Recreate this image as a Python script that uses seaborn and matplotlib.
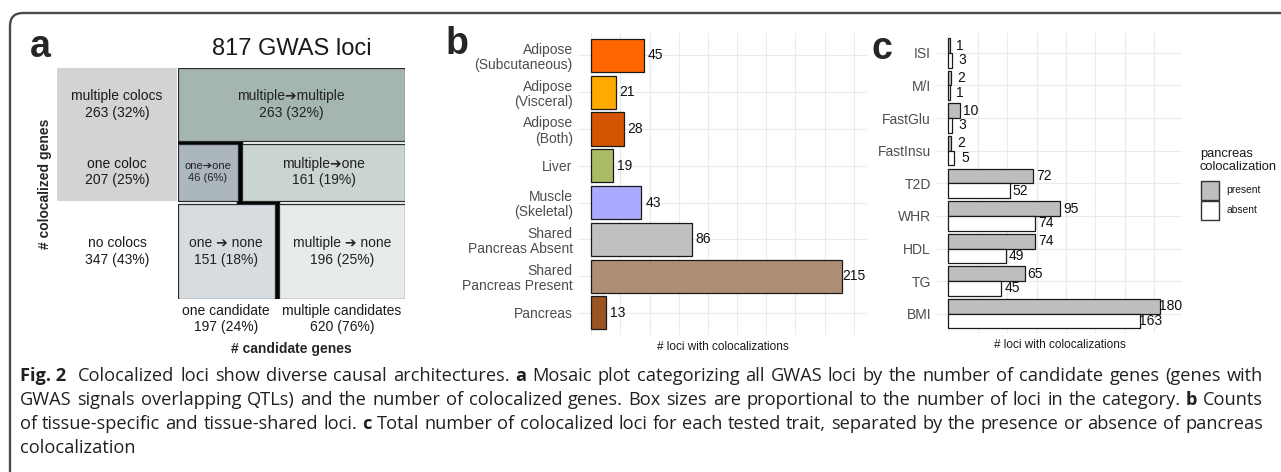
import matplotlib
matplotlib.use("Agg")
import matplotlib.pyplot as plt
import numpy as np
import pandas as pd
import seaborn as sns
from matplotlib.patches import Rectangle, FancyBboxPatch
from matplotlib.ticker import MultipleLocator
from matplotlib.transforms import IdentityTransform

# ---------------- data ----------------
# panel a: GWAS loci by number of candidate genes x number of colocalized genes
coloc_rows = ["multiple colocs", "one coloc", "no colocs"]
coloc_row_pct = ["32%", "25%", "43%"]
one_candidate = [0, 46, 151]
multi_candidate = [263, 161, 196]
one_tile_labels = [None, "one\u2794one", "one \u2794 none"]
one_tile_pct = [None, "6%", "18%"]
multi_tile_labels = ["multiple\u2794multiple", "multiple\u2794one", "multiple \u2794 none"]
multi_tile_pct = ["32%", "19%", "25%"]
candidate_cols = ["one candidate", "multiple candidates"]
candidate_col_pct = ["24%", "76%"]

# panel b: tissue-specific and tissue-shared loci
tissues = ["Adipose\n(Subcutaneous)", "Adipose\n(Visceral)", "Adipose\n(Both)", "Liver",
           "Muscle\n(Skeletal)", "Shared\nPancreas Absent", "Shared\nPancreas Present", "Pancreas"]
tissue_loci = [45, 21, 28, 19, 43, 86, 215, 13]

# panel c: colocalized loci per trait, split by pancreas colocalization
traits = ["ISI", "M/I", "FastGlu", "FastInsu", "T2D", "WHR", "HDL", "TG", "BMI"]
pancreas_present = [1, 2, 10, 2, 72, 95, 74, 65, 180]
pancreas_absent = [3, 1, 3, 5, 52, 74, 49, 45, 163]
pancreas_levels = ["present", "absent"]

# ---------------- styles ----------------
tissue_colors = ["#ff6600", "#ffaa00", "#d45500", "#aabb66", "#aaaaff",
                 "#c0c0c0", "#ad8f78", "#995522"]
one_tile_colors = [None, "#acb6bd", "#d6dce0"]
multi_tile_colors = ["#a5b6b1", "#cad5d1", "#e8ebeb"]
label_block_color = "#d3d3d3"
edge_dark = "#1a1a1a"
grid_color = "#ebebeb"
arrow_font = ["Liberation Sans", "DejaVu Sans"]

sns.set_style("white")
plt.rcParams["font.family"] = "Liberation Sans"

W, H = 1281, 472
fig = plt.figure(figsize=(W / 100, H / 100), dpi=100)


def px_axes(x0, y0, x1, y1):
    return fig.add_axes([x0 / W, 1 - y1 / H, (x1 - x0) / W, (y1 - y0) / H])


# ---------------- outer frame ----------------
frame = FancyBboxPatch((10, -60), 1400, H - 13 + 60, boxstyle="round,pad=0,rounding_size=13",
                       transform=IdentityTransform(), fill=False, ec="#4a4a4a", lw=1.7)
fig.patches.append(frame)

# ---------------- panel a: mosaic ----------------
ax_a = px_axes(177.7, 68.3, 405, 299)
ax_a.set_xlim(0, 1)
ax_a.set_ylim(0, 1)
ax_a.axis("off")

row_tot = [o + m for o, m in zip(one_candidate, multi_candidate)]
total = sum(row_tot)
col_tot = [sum(one_candidate), sum(multi_candidate)]
row_gap, col_gap, min_share = 0.013, 0.02, 0.27
avail_h = 1 - row_gap * (len(coloc_rows) - 1)

y_top = 1.0
row_bounds, split_x = [], []
for i, name in enumerate(coloc_rows):
    h = avail_h * row_tot[i] / total
    yb = y_top - h
    row_bounds.append((yb, y_top))
    tiles = []
    if one_candidate[i] == 0:
        tiles.append((0, 1, multi_candidate[i], multi_tile_labels[i], multi_tile_pct[i], multi_tile_colors[i]))
        split_x.append(None)
    else:
        share = max(one_candidate[i] / row_tot[i], min_share)
        w1 = (1 - col_gap) * share
        tiles.append((0, w1, one_candidate[i], one_tile_labels[i], one_tile_pct[i], one_tile_colors[i]))
        tiles.append((w1 + col_gap, 1, multi_candidate[i], multi_tile_labels[i], multi_tile_pct[i], multi_tile_colors[i]))
        split_x.append(w1 + col_gap / 2)
    for (x0, x1, n, lab, pct, col) in tiles:
        ax_a.add_patch(Rectangle((x0, yb), x1 - x0, h, fc=col, ec="#2a2a2a", lw=0.9, zorder=2))
        fs = 8 if (x1 - x0) < 0.3 else 10
        ax_a.text((x0 + x1) / 2, (yb + y_top) / 2, f"{lab}\n{n} ({pct})", ha="center", va="center",
                  fontsize=fs, color="#222222", linespacing=1.25, zorder=3, family=arrow_font)
    # row label on the left
    ax_a.text(-0.267, (yb + y_top) / 2, f"{name}\n{row_tot[i]} ({coloc_row_pct[i]})", ha="center",
              va="center", fontsize=10, color="#1a1a1a", linespacing=1.25, clip_on=False)
    y_top = yb - row_gap

# grey block behind the labels of rows that have colocalizations
coloc_bottom = row_bounds[1][0]
ax_a.add_patch(Rectangle((-0.531, coloc_bottom), 0.527, row_bounds[0][1] - coloc_bottom,
                         fc=label_block_color, ec="none", clip_on=False, zorder=0))

# heavy boundary between single- and multiple-candidate loci
g01 = (row_bounds[0][0] + row_bounds[1][1]) / 2
g12 = (row_bounds[1][0] + row_bounds[2][1]) / 2
stair_x = [0, split_x[1], split_x[1], split_x[2], split_x[2]]
stair_y = [g01, g01, g12, g12, 0]
ax_a.plot(stair_x, stair_y, color="black", lw=4.6, solid_joinstyle="miter",
          solid_capstyle="butt", zorder=1)

# column labels under the mosaic
bottom_split = split_x[2]
col_centers = [(0 + bottom_split - col_gap / 2) / 2, (bottom_split + col_gap / 2 + 1) / 2]
for cx, name, n, pct in zip(col_centers, candidate_cols, col_tot, candidate_col_pct):
    ax_a.text(cx, -0.087, f"{name}\n{n} ({pct})", ha="center", va="center", fontsize=10,
              color="#1a1a1a", linespacing=1.25, clip_on=False)

ax_a.text(0.5, 1 + (68.3 - 49) / 230.7, f"{total} GWAS loci", ha="center", va="center",
          fontsize=17, color="#1a1a1a", clip_on=False)
fig.text(291.5 / W, 1 - 349 / H, "# candidate genes", ha="center", va="center",
         fontsize=10, fontweight="bold")
fig.text(45 / W, 1 - 184 / H, "# colocalized genes", ha="center", va="center",
         fontsize=10, fontweight="bold", rotation=90)

# ---------------- panel b ----------------
ax_b = px_axes(578, 33.3, 867, 335)
sns.barplot(x=tissue_loci, y=tissues, hue=tissues, palette=tissue_colors, legend=False,
            orient="h", width=0.9, saturation=1, edgecolor=edge_dark, linewidth=0.9, ax=ax_b)
b_off = 10
b_max = max(tissue_loci) + b_off
ax_b.set_xlim(-0.05 * b_max, 1.05 * b_max)
ax_b.set_ylim(len(tissues) - 0.4, -0.6)
for cont in ax_b.containers:
    for bar in cont:
        v = bar.get_width()
        ax_b.text(v + b_off, bar.get_y() + bar.get_height() / 2, f"{v:.0f}", ha="center",
                  va="center", fontsize=10, color="#111111")

# ---------------- panel c ----------------
ax_c = px_axes(937.3, 33.3, 1181.7, 333.3)
trait_df = pd.DataFrame({
    "trait": traits * 2,
    "pancreas": [pancreas_levels[0]] * len(traits) + [pancreas_levels[1]] * len(traits),
    "loci": pancreas_present + pancreas_absent,
})
fill_map = {"present": "#bebebe", "absent": "#ffffff"}
sns.barplot(data=trait_df, x="loci", y="trait", hue="pancreas", hue_order=pancreas_levels,
            palette=fill_map, legend=False, orient="h", width=0.9, saturation=1,
            edgecolor=edge_dark, linewidth=0.9, ax=ax_c)
c_off = 9
c_max = max(pancreas_present + pancreas_absent) + c_off
ax_c.set_xlim(-0.05 * c_max, 1.05 * c_max)
ax_c.set_ylim(len(traits) - 0.4, -0.6)
for cont in ax_c.containers:
    for bar in cont:
        v = bar.get_width()
        ax_c.text(v + c_off, bar.get_y() + bar.get_height() / 2, f"{v:.0f}", ha="center",
                  va="center", fontsize=10, color="#111111")

# legend for panel c (ggplot-style stacked keys), laid out in pixels
fig.text(1200 / W, 1 - 148.5 / H, "pancreas\ncolocalization", ha="left", va="top",
         fontsize=9.3, color="#1a1a1a", linespacing=1.0)
key_w, key_h, key_top, key_left = 18.6, 18.6, 181, 1200.7
for k, level in enumerate(pancreas_levels):
    top = key_top + k * (key_h + 1.4)
    fig.patches.append(Rectangle((key_left, H - top - key_h), key_w, key_h,
                                 transform=IdentityTransform(), fc=fill_map[level],
                                 ec="#333333", lw=1.0))
    fig.text((key_left + key_w + 7) / W, 1 - (top + key_h / 2) / H, level, ha="left",
             va="center", fontsize=7.4, color="#1a1a1a")

# shared styling of the bar panels
for ax, pad in ((ax_b, 3.8), (ax_c, 4.5)):
    ax.xaxis.set_major_locator(MultipleLocator(25))
    ax.grid(True, color=grid_color, lw=0.8)
    ax.set_axisbelow(True)
    for s in ax.spines.values():
        s.set_visible(False)
    ax.tick_params(axis="x", length=0, labelbottom=False)
    ax.tick_params(axis="y", length=0, pad=pad, labelsize=10, labelcolor="#4d4d4d")
    for t in ax.get_yticklabels():
        t.set_linespacing(1.12)
    ax.set_ylabel("")
    ax.set_xlabel("# loci with colocalizations", fontsize=8.5, color="#1a1a1a")
    ax.xaxis.set_label_coords(0.5, -(341 - 335) / 300)
    ax.xaxis.label.set_va("top")

# panel letters
for letter, x, y in (("a", 40, 47), ("b", 457, 44), ("c", 882, 49)):
    fig.text(x / W, 1 - y / H, letter, ha="center", va="center", fontsize=27, fontweight="bold")

# ---------------- caption ----------------
cap_font = "Open Sans"
caption_lines = [
    [("Fig. 2", True), ("Colocalized loci show diverse causal architectures.", False), ("a", True),
     ("Mosaic plot categorizing all GWAS loci by the number of candidate genes (genes with", False)],
    [("GWAS signals overlapping QTLs) and the number of colocalized genes. Box sizes are proportional "
      "to the number of loci in the category.", False), ("b", True), ("Counts", False)],
    [("of tissue-specific and tissue-shared loci.", False), ("c", True),
     ("Total number of colocalized loci for each tested trait, separated by the presence or absence "
      "of pancreas", False)],
    [("colocalization", False)],
]
renderer = fig.canvas.get_renderer()


def text_width(s, bold, fs):
    t = fig.text(0, 0, s, fontsize=fs, fontweight="bold" if bold else "normal", family=cap_font)
    w = t.get_window_extent(renderer).width
    t.remove()
    return w


def tokens(line):
    out = []
    for seg, bold in line:
        if bold:
            out.append((seg, True))
        else:
            out.extend((w, False) for w in seg.split())
    return out


cap_left, cap_right = 20, 1263
target = cap_right - cap_left
fs0 = 12
space0 = text_width("x x", False, fs0) - text_width("xx", False, fs0)


def natural_width(toks, fs, space):
    ws = [text_width(w, b, fs) for w, b in toks]
    weights = [2 if w == "Fig. 2" else 1 for w, _ in toks[:-1]]
    return sum(ws) + space * sum(weights), ws, weights


nat = [natural_width(tokens(l), fs0, space0)[0] for l in caption_lines[:3]]
cap_fs = fs0 * target / max(nat) * 0.985
space = text_width("x x", False, cap_fs) - text_width("xx", False, cap_fs)
baselines = [381, 405, 429, 453]
for li, line in enumerate(caption_lines):
    toks = tokens(line)
    _, ws, weights = natural_width(toks, cap_fs, space)
    if li < 3:
        unit = (target - sum(ws)) / sum(weights)
    else:
        unit = space
    x = cap_left
    for k, ((w, b), wd) in enumerate(zip(toks, ws)):
        fig.text(x / W, 1 - baselines[li] / H, w, fontsize=cap_fs, family=cap_font,
                 fontweight="bold" if b else "normal", ha="left", va="baseline", color="#231f20")
        if k < len(weights):
            x += wd + unit * weights[k]

fig.savefig("out.png", dpi=100)
